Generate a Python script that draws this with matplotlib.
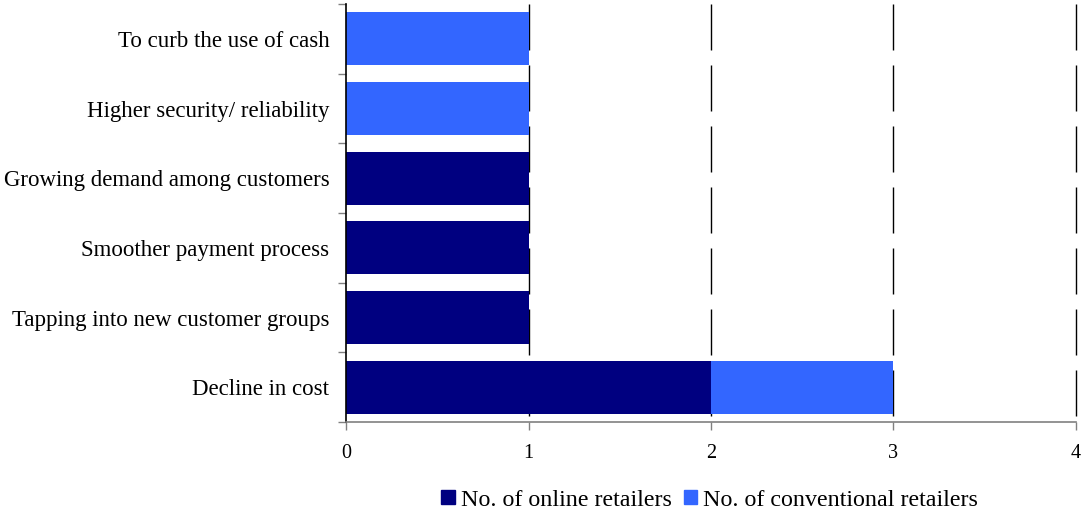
import numpy as np
import matplotlib
matplotlib.use("Agg")
import matplotlib.pyplot as plt
from matplotlib.patches import Patch

plt.rcParams['font.family'] = ['Liberation Serif', 'DejaVu Serif']

# reasons, listed bottom to top
reasons = ['Decline in cost', 'Tapping into new customer groups', 'Smoother payment process',
           'Growing demand among customers', 'Higher security/ reliability', 'To curb the use of cash']
online = [2, 1, 1, 1, 0, 0]
conventional = [1, 0, 0, 0, 1, 1]
series_names = ['No. of online retailers', 'No. of conventional retailers']
colors = ['#000080', '#3366FF']
xticks = [0, 1, 2, 3, 4]

fig = plt.figure(figsize=(10.85, 5.14), dpi=100)
ax = fig.add_axes([0.3189, 0.179, 0.6728, 0.813])

y = np.arange(len(reasons))
online = np.array(online)
conventional = np.array(conventional)

# dashed gridlines, dashes starting from the top edge
lw = 1.0
ax.vlines(xticks[1:], 1, 0, transform=ax.get_xaxis_transform(), colors='black',
          linewidth=lw, linestyles=[(0, (46 * 0.72 / lw, 15 * 0.72 / lw))], zorder=0,
          clip_on=False)

ax.barh(y, online, height=0.76, color=colors[0], zorder=2)
ax.barh(y, conventional, left=online, height=0.76, color=colors[1], zorder=2)

ax.set_xlim(0, 4)
ax.set_ylim(-0.5, len(reasons) - 0.5)
ax.set_xticks(xticks)
ax.set_xticklabels([str(t) for t in xticks], fontsize=14.5)
ax.set_yticks(y)
ax.set_yticklabels(reasons, fontsize=16.5)
ax.set_yticks(np.arange(-0.5, len(reasons)), minor=True)
ax.tick_params(axis='y', which='major', length=0, pad=12)
ax.tick_params(axis='y', which='minor', length=6, color='#808080', width=1)
ax.tick_params(axis='x', which='major', length=6, color='#808080', width=1, pad=10)

for side in ['top', 'right']:
    ax.spines[side].set_visible(False)
ax.spines['left'].set_color('black')
ax.spines['bottom'].set_color('#808080')
ax.spines['left'].set_linewidth(1.2)
ax.spines['bottom'].set_linewidth(1.2)

handles = [Patch(color=c) for c in colors]
fig.legend(handles, series_names, loc='center', bbox_to_anchor=(0.654, 0.027), ncol=2,
           frameon=False, fontsize=17.3, handlelength=0.55, handleheight=0.55,
           handletextpad=0.25, columnspacing=0.5, borderaxespad=0, borderpad=0)

fig.savefig('out.png', dpi=100)
